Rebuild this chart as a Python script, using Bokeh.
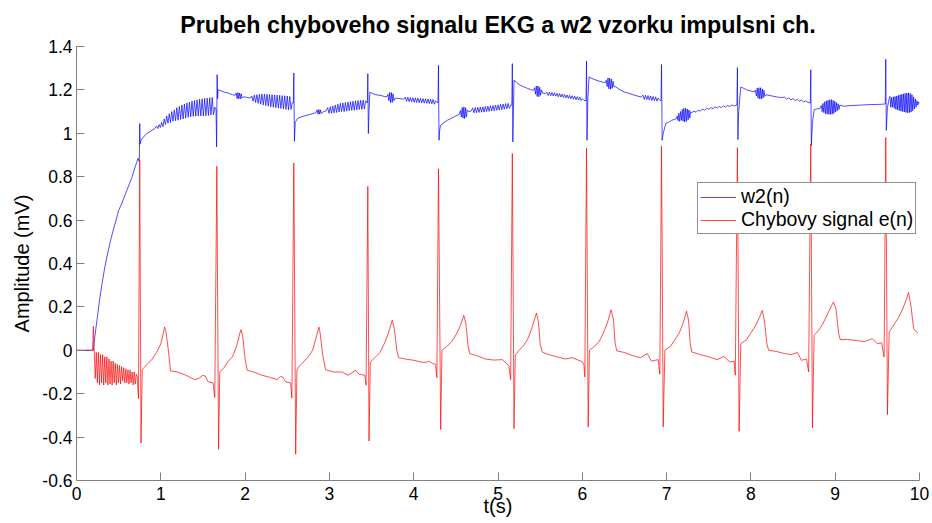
from bokeh.plotting import figure
from bokeh.models import Range1d, FixedTicker, Legend, LegendItem, PrintfTickFormatter
from bokeh.embed import file_html
from bokeh.resources import INLINE

TITLE = "Prubeh chyboveho signalu EKG a w2 vzorku impulsni ch."
X_LABEL = "t(s)"
Y_LABEL = "Amplitude (mV)"
X_TICKS = [0, 1, 2, 3, 4, 5, 6, 7, 8, 9, 10]
Y_TICKS = [-0.6, -0.4, -0.2, 0, 0.2, 0.4, 0.6, 0.8, 1, 1.2, 1.4]
SERIES_NAMES = ["w2(n)", "Chybovy signal e(n)"]

# ---- w2(n) (blue) as (t, value) ----
W2_RISE = [(0.0, 0.0), (0.19, 0.0), (0.2, 0.0), (0.21, 0.04), (0.23, 0.10), (0.25, 0.16), (0.27, 0.22),
           (0.30, 0.30), (0.33, 0.37), (0.36, 0.43), (0.40, 0.50), (0.44, 0.56), (0.47, 0.60), (0.50, 0.645),
           (0.53, 0.67), (0.56, 0.70), (0.60, 0.74), (0.63, 0.77), (0.66, 0.80), (0.70, 0.85), (0.73, 0.885),
           (0.745, 0.87), (0.75, 1.045), (0.755, 0.95), (0.765, 0.97), (0.78, 0.975)]
W2_SEG1 = [(0.82, 0.995), (0.86, 1.005), (0.90, 1.015), (0.93, 1.022),
           (0.950, 1.034), (0.965, 1.022), (0.980, 1.040), (0.995, 1.027), (1.010, 1.050), (1.025, 1.030),
           (1.040, 1.066), (1.055, 1.040), (1.070, 1.080), (1.085, 1.047), (1.100, 1.090), (1.115, 1.050),
           (1.130, 1.100), (1.145, 1.056), (1.160, 1.108), (1.175, 1.058), (1.190, 1.118), (1.205, 1.060),
           (1.220, 1.124), (1.235, 1.064), (1.250, 1.130), (1.265, 1.066), (1.280, 1.135), (1.295, 1.070),
           (1.310, 1.140), (1.325, 1.074), (1.340, 1.144), (1.355, 1.076), (1.370, 1.148), (1.385, 1.078),
           (1.400, 1.151), (1.415, 1.079), (1.430, 1.154), (1.445, 1.080), (1.460, 1.157), (1.475, 1.080),
           (1.490, 1.159), (1.505, 1.080), (1.520, 1.161), (1.535, 1.081), (1.550, 1.162), (1.565, 1.082),
           (1.580, 1.164), (1.595, 1.084), (1.610, 1.165), (1.625, 1.086), (1.640, 1.12),
           (1.655, 1.11), (1.662, 0.937), (1.668, 1.27), (1.674, 1.16), (1.68, 1.20)]
W2_SEG2 = [(1.70, 1.198), (1.75, 1.19), (1.80, 1.185), (1.85, 1.178), (1.88, 1.175),
           (1.895, 1.186), (1.905, 1.16), (1.915, 1.188), (1.925, 1.158), (1.935, 1.186), (1.945, 1.158),
           (1.955, 1.182), (1.965, 1.162), (1.98, 1.168), (2.02, 1.166), (2.06, 1.162),
           (2.080, 1.172), (2.095, 1.148), (2.110, 1.176), (2.125, 1.142), (2.140, 1.178), (2.155, 1.138),
           (2.170, 1.180), (2.185, 1.134), (2.200, 1.181), (2.215, 1.130), (2.230, 1.180), (2.245, 1.128),
           (2.260, 1.180), (2.275, 1.125), (2.290, 1.179), (2.305, 1.122), (2.320, 1.178), (2.335, 1.120),
           (2.350, 1.177), (2.365, 1.118), (2.380, 1.176), (2.395, 1.116), (2.410, 1.175), (2.425, 1.114),
           (2.440, 1.174), (2.455, 1.112), (2.470, 1.173), (2.485, 1.110), (2.500, 1.172), (2.515, 1.108),
           (2.530, 1.170), (2.545, 1.110), (2.560, 1.14),
           (2.572, 1.14), (2.578, 1.278), (2.585, 0.963), (2.595, 1.05), (2.62, 1.068)]
W2_SEG3 = [(2.66, 1.075), (2.70, 1.08), (2.75, 1.085), (2.80, 1.09), (2.84, 1.095),
           (2.855, 1.108), (2.865, 1.088), (2.875, 1.11), (2.885, 1.088), (2.895, 1.108), (2.905, 1.092),
           (2.93, 1.10), (2.96, 1.103),
           (2.980, 1.118), (2.995, 1.092), (3.010, 1.122), (3.025, 1.092), (3.040, 1.126), (3.055, 1.094),
           (3.070, 1.130), (3.085, 1.096), (3.100, 1.134), (3.115, 1.098), (3.130, 1.138), (3.145, 1.100),
           (3.160, 1.140), (3.175, 1.100), (3.190, 1.142), (3.205, 1.102), (3.220, 1.144), (3.235, 1.104),
           (3.250, 1.146), (3.265, 1.106), (3.280, 1.148), (3.295, 1.106), (3.310, 1.150), (3.325, 1.108),
           (3.340, 1.151), (3.355, 1.110), (3.370, 1.152), (3.385, 1.110), (3.400, 1.153), (3.415, 1.112),
           (3.430, 1.15), (3.45, 1.14), (3.456, 1.275), (3.462, 0.999), (3.47, 1.10), (3.48, 1.19), (3.51, 1.183)]
W2_SEG4 = [(3.55, 1.178), (3.60, 1.175), (3.65, 1.17), (3.68, 1.168),
           (3.695, 1.18), (3.705, 1.15), (3.715, 1.188), (3.725, 1.142), (3.735, 1.188), (3.745, 1.142),
           (3.755, 1.182), (3.765, 1.15), (3.78, 1.162), (3.83, 1.16), (3.88, 1.157),
           (3.900, 1.167), (3.915, 1.147), (3.930, 1.166), (3.945, 1.146), (3.960, 1.165), (3.975, 1.145),
           (3.990, 1.164), (4.005, 1.143), (4.020, 1.163), (4.035, 1.142), (4.050, 1.162), (4.065, 1.141),
           (4.080, 1.161), (4.095, 1.140), (4.110, 1.160), (4.125, 1.139), (4.140, 1.159), (4.155, 1.138),
           (4.170, 1.158), (4.185, 1.137), (4.200, 1.157), (4.215, 1.136), (4.230, 1.156), (4.245, 1.134),
           (4.260, 1.150), (4.275, 1.144), (4.288, 1.14), (4.294, 1.313), (4.30, 0.968), (4.31, 1.02), (4.32, 1.037)]
W2_SEG5 = [(4.36, 1.05), (4.40, 1.06), (4.45, 1.07), (4.50, 1.08), (4.54, 1.087),
           (4.555, 1.105), (4.565, 1.075), (4.575, 1.118), (4.585, 1.07), (4.595, 1.122), (4.605, 1.068),
           (4.615, 1.118), (4.625, 1.075), (4.635, 1.108), (4.65, 1.10), (4.68, 1.102),
           (4.700, 1.117), (4.715, 1.094), (4.730, 1.119), (4.745, 1.095), (4.760, 1.120), (4.775, 1.096),
           (4.790, 1.121), (4.805, 1.097), (4.820, 1.122), (4.835, 1.098), (4.850, 1.124), (4.865, 1.100),
           (4.880, 1.125), (4.895, 1.101), (4.910, 1.127), (4.925, 1.103), (4.940, 1.128), (4.955, 1.104),
           (4.970, 1.130), (4.985, 1.106), (5.000, 1.131), (5.015, 1.107), (5.030, 1.133), (5.045, 1.109),
           (5.060, 1.135), (5.075, 1.111), (5.090, 1.137), (5.105, 1.113), (5.120, 1.138), (5.135, 1.115),
           (5.150, 1.13), (5.164, 1.13), (5.170, 1.321), (5.176, 0.96), (5.183, 1.10), (5.19, 1.244)]
W2_SEG6 = [(5.22, 1.235), (5.26, 1.222), (5.30, 1.215), (5.35, 1.207), (5.40, 1.20), (5.42, 1.198),
           (5.435, 1.21), (5.445, 1.18), (5.455, 1.218), (5.465, 1.17), (5.475, 1.218), (5.485, 1.168),
           (5.495, 1.212), (5.505, 1.175), (5.515, 1.20), (5.53, 1.185), (5.56, 1.183),
           (5.580, 1.190), (5.595, 1.174), (5.610, 1.189), (5.625, 1.173), (5.640, 1.188), (5.655, 1.172),
           (5.670, 1.187), (5.685, 1.171), (5.700, 1.184), (5.715, 1.168), (5.730, 1.183), (5.745, 1.167),
           (5.760, 1.181), (5.775, 1.165), (5.790, 1.179), (5.805, 1.163), (5.820, 1.177), (5.835, 1.161),
           (5.850, 1.175), (5.865, 1.159), (5.880, 1.173), (5.895, 1.157), (5.910, 1.171), (5.925, 1.155),
           (5.940, 1.169), (5.955, 1.153), (5.970, 1.167), (5.985, 1.151), (6.000, 1.16), (6.020, 1.152),
           (6.044, 1.15), (6.050, 1.333), (6.056, 0.968), (6.065, 1.15), (6.08, 1.26)]
W2_SEG7 = [(6.10, 1.255), (6.15, 1.247), (6.20, 1.24), (6.25, 1.235), (6.27, 1.232),
           (6.285, 1.245), (6.295, 1.215), (6.305, 1.255), (6.315, 1.205), (6.325, 1.255), (6.335, 1.203),
           (6.345, 1.25), (6.355, 1.207), (6.365, 1.24), (6.375, 1.215), (6.39, 1.215), (6.45, 1.20),
           (6.50, 1.19), (6.55, 1.184), (6.60, 1.178), (6.65, 1.172), (6.70, 1.167),
           (6.720, 1.176), (6.735, 1.156), (6.750, 1.175), (6.765, 1.155), (6.780, 1.174), (6.795, 1.153),
           (6.810, 1.172), (6.825, 1.151), (6.840, 1.170), (6.855, 1.150), (6.870, 1.168), (6.885, 1.148),
           (6.900, 1.162), (6.920, 1.152), (6.934, 1.15), (6.940, 1.317), (6.947, 0.968), (6.96, 1.0), (6.99, 1.045)]
W2_SEG8 = [(7.02, 1.05), (7.06, 1.06), (7.10, 1.065), (7.12, 1.068),
           (7.125, 1.08), (7.135, 1.058), (7.145, 1.092), (7.155, 1.055), (7.165, 1.10), (7.175, 1.06),
           (7.185, 1.11), (7.195, 1.056), (7.205, 1.115), (7.215, 1.052), (7.225, 1.115), (7.235, 1.055),
           (7.245, 1.112), (7.255, 1.062), (7.265, 1.108), (7.275, 1.07), (7.285, 1.10),
           (7.30, 1.095), (7.325, 1.102), (7.35, 1.097), (7.375, 1.107), (7.40, 1.102), (7.425, 1.112),
           (7.45, 1.106), (7.475, 1.116), (7.50, 1.110), (7.525, 1.119), (7.55, 1.113), (7.575, 1.122),
           (7.60, 1.116), (7.625, 1.124), (7.65, 1.118), (7.675, 1.127), (7.70, 1.121), (7.725, 1.129),
           (7.75, 1.123), (7.775, 1.131), (7.80, 1.126), (7.83, 1.13),
           (7.834, 1.13), (7.840, 1.303), (7.846, 0.971), (7.855, 1.10), (7.88, 1.213)]
W2_SEG9 = [(7.90, 1.21), (7.95, 1.20), (8.00, 1.195), (8.04, 1.19),
           (8.055, 1.20), (8.065, 1.172), (8.075, 1.208), (8.085, 1.162), (8.095, 1.21), (8.105, 1.158),
           (8.115, 1.21), (8.125, 1.158), (8.135, 1.205), (8.145, 1.163), (8.155, 1.198), (8.165, 1.17),
           (8.18, 1.178), (8.25, 1.172), (8.30, 1.168), (8.35, 1.165),
           (8.40, 1.166), (8.425, 1.157), (8.45, 1.163), (8.475, 1.154), (8.50, 1.160), (8.525, 1.151),
           (8.55, 1.157), (8.575, 1.148), (8.60, 1.153), (8.625, 1.145), (8.65, 1.149), (8.67, 1.144),
           (8.70, 1.14), (8.705, 1.14), (8.710, 1.293), (8.717, 0.945), (8.73, 1.05), (8.75, 1.109)]
W2_SEG10 = [(8.78, 1.112), (8.82, 1.115),
            (8.835, 1.128), (8.845, 1.10), (8.855, 1.138), (8.865, 1.095), (8.875, 1.145), (8.885, 1.09),
            (8.895, 1.15), (8.905, 1.088), (8.915, 1.152), (8.925, 1.088), (8.935, 1.155), (8.945, 1.087),
            (8.955, 1.155), (8.965, 1.088), (8.975, 1.152), (8.985, 1.092), (8.995, 1.148), (9.005, 1.098),
            (9.015, 1.142), (9.025, 1.104), (9.035, 1.136), (9.045, 1.11), (9.055, 1.13),
            (9.10, 1.125), (9.20, 1.128), (9.30, 1.13), (9.40, 1.132), (9.50, 1.133), (9.56, 1.134),
            (9.59, 1.135), (9.594, 1.135), (9.600, 1.341), (9.606, 1.014), (9.62, 1.12), (9.64, 1.16)]
W2_SEG11 = [(9.650, 1.17), (9.660, 1.12), (9.670, 1.165), (9.680, 1.12), (9.690, 1.168), (9.700, 1.115),
            (9.710, 1.17), (9.720, 1.11), (9.730, 1.172), (9.740, 1.108), (9.750, 1.175), (9.760, 1.105),
            (9.770, 1.178), (9.780, 1.102), (9.790, 1.18), (9.800, 1.10), (9.810, 1.182), (9.820, 1.098),
            (9.830, 1.184), (9.840, 1.096), (9.850, 1.186), (9.860, 1.095), (9.870, 1.186), (9.880, 1.095),
            (9.890, 1.184), (9.900, 1.098), (9.910, 1.178), (9.920, 1.104), (9.930, 1.168), (9.940, 1.112),
            (9.950, 1.158), (9.960, 1.12), (9.970, 1.15), (9.980, 1.13), (9.990, 1.145), (10.0, 1.137)]

# ---- e(n) error signal (red) as (t, value) ----
E_START = [(0.0, 0.0), (0.19, 0.0), (0.20, 0.11), (0.21, 0.0),
           (0.2225, -0.13), (0.235, -0.01), (0.2475, -0.15), (0.26, -0.01), (0.2725, -0.16), (0.285, -0.02),
           (0.2975, -0.15), (0.31, -0.02), (0.3225, -0.16), (0.335, -0.03), (0.3475, -0.15), (0.36, -0.03),
           (0.3725, -0.16), (0.385, -0.04), (0.3975, -0.155), (0.41, -0.05), (0.4225, -0.16), (0.435, -0.05),
           (0.4475, -0.15), (0.46, -0.06), (0.4725, -0.16), (0.485, -0.065), (0.4975, -0.15), (0.51, -0.07),
           (0.5225, -0.155), (0.535, -0.075), (0.5475, -0.14), (0.56, -0.08), (0.5725, -0.15), (0.585, -0.085),
           (0.5975, -0.15), (0.61, -0.09), (0.6225, -0.155), (0.635, -0.09), (0.6475, -0.15), (0.66, -0.10),
           (0.6725, -0.16), (0.685, -0.10), (0.6975, -0.155), (0.71, -0.11), (0.72, -0.12)]
E_BEAT1 = [(0.735, -0.223), (0.75, 0.876), (0.765, -0.427), (0.78, -0.09), (0.80, -0.08), (0.85, -0.06),
           (0.90, -0.04), (0.95, -0.01), (1.00, 0.03), (1.03, 0.08), (1.045, 0.107), (1.06, 0.09), (1.09, 0.0),
           (1.115, -0.095), (1.20, -0.10), (1.30, -0.115), (1.40, -0.135), (1.45, -0.13), (1.50, -0.115),
           (1.53, -0.12), (1.56, -0.145), (1.62, -0.15)]
E_BEAT2 = [(1.64, -0.217), (1.665, 0.848), (1.685, -0.456), (1.70, -0.10), (1.75, -0.08), (1.80, -0.05),
           (1.85, -0.03), (1.90, 0.02), (1.935, 0.075), (1.953, 0.095), (1.97, 0.07), (2.00, -0.04),
           (2.025, -0.092), (2.10, -0.10), (2.20, -0.115), (2.30, -0.125), (2.38, -0.135), (2.42, -0.12),
           (2.45, -0.125), (2.48, -0.145), (2.54, -0.15)]
E_BEAT3 = [(2.555, -0.22), (2.578, 0.863), (2.60, -0.479), (2.615, -0.09), (2.65, -0.07), (2.70, -0.05),
           (2.75, -0.03), (2.80, 0.0), (2.85, 0.07), (2.875, 0.107), (2.89, 0.08), (2.92, -0.02), (2.954, -0.09),
           (3.05, -0.10), (3.15, -0.10), (3.22, -0.115), (3.28, -0.10), (3.31, -0.092), (3.35, -0.11),
           (3.42, -0.115)]
E_BEAT4 = [(3.435, -0.161), (3.456, 0.756), (3.47, -0.418), (3.485, -0.054), (3.55, -0.03), (3.60, -0.01),
           (3.65, 0.03), (3.70, 0.08), (3.745, 0.138), (3.77, 0.10), (3.80, 0.0), (3.82, -0.034), (3.90, -0.04),
           (4.00, -0.046), (4.10, -0.055), (4.15, -0.055), (4.18, -0.05), (4.22, -0.06), (4.26, -0.065)]
E_BEAT5 = [(4.275, -0.126), (4.294, 0.836), (4.32, -0.365), (4.335, 0.0), (4.40, 0.02), (4.45, 0.04),
           (4.50, 0.07), (4.55, 0.11), (4.595, 0.161), (4.62, 0.12), (4.645, 0.02), (4.665, -0.015),
           (4.75, -0.025), (4.85, -0.04), (4.95, -0.045), (5.05, -0.043), (5.10, -0.06), (5.13, -0.074)]
E_BEAT6 = [(5.15, -0.135), (5.17, 0.907), (5.19, -0.361), (5.205, -0.023), (5.25, 0.0), (5.30, 0.02),
           (5.35, 0.05), (5.40, 0.10), (5.457, 0.172), (5.48, 0.13), (5.50, 0.03), (5.525, -0.008), (5.60, -0.02),
           (5.70, -0.03), (5.80, -0.04), (5.88, -0.034), (5.95, -0.045), (6.00, -0.052), (6.02, -0.07)]
E_BEAT7 = [(6.03, -0.123), (6.05, 0.932), (6.07, -0.353), (6.085, 0.0), (6.15, 0.02), (6.20, 0.04),
           (6.25, 0.08), (6.30, 0.13), (6.342, 0.187), (6.37, 0.14), (6.39, 0.03), (6.41, -0.003), (6.50, -0.01),
           (6.60, -0.025), (6.69, -0.034), (6.77, -0.015), (6.82, -0.05), (6.90, -0.043)]
E_BEAT8 = [(6.92, -0.11), (6.94, 0.94), (6.96, -0.353), (6.98, 0.0), (7.05, 0.02), (7.10, 0.05), (7.15, 0.08),
           (7.20, 0.13), (7.236, 0.18), (7.26, 0.14), (7.28, 0.03), (7.30, -0.008), (7.40, -0.02), (7.50, -0.03),
           (7.60, -0.043), (7.68, -0.028), (7.75, -0.054), (7.80, -0.05)]
E_BEAT9 = [(7.815, -0.115), (7.84, 0.934), (7.86, -0.373), (7.88, 0.03), (7.95, 0.05), (8.00, 0.08),
           (8.05, 0.11), (8.10, 0.15), (8.134, 0.184), (8.16, 0.14), (8.19, 0.03), (8.21, 0.0), (8.30, -0.005),
           (8.40, -0.015), (8.48, -0.02), (8.55, -0.01), (8.60, -0.046), (8.66, -0.04)]
E_BEAT10 = [(8.685, -0.10), (8.71, 0.95), (8.73, -0.358), (8.75, 0.069), (8.80, 0.09), (8.85, 0.12),
            (8.90, 0.16), (8.95, 0.20), (8.98, 0.223), (9.01, 0.19), (9.04, 0.08), (9.06, 0.049), (9.15, 0.05),
            (9.25, 0.045), (9.35, 0.04), (9.44, 0.054), (9.50, 0.03), (9.55, 0.035)]
E_BEAT11 = [(9.58, -0.031), (9.60, 0.98), (9.62, -0.296), (9.64, 0.084), (9.70, 0.12), (9.75, 0.15),
            (9.80, 0.19), (9.85, 0.24), (9.87, 0.267), (9.90, 0.20), (9.93, 0.10), (9.95, 0.09), (9.98, 0.08)]

W2_SEGMENTS = [W2_RISE, W2_SEG1, W2_SEG2, W2_SEG3, W2_SEG4, W2_SEG5, W2_SEG6,
               W2_SEG7, W2_SEG8, W2_SEG9, W2_SEG10, W2_SEG11]
E_SEGMENTS = [E_START, E_BEAT1, E_BEAT2, E_BEAT3, E_BEAT4, E_BEAT5, E_BEAT6,
              E_BEAT7, E_BEAT8, E_BEAT9, E_BEAT10, E_BEAT11]


def unpack(segments):
    pts = [pt for seg in segments for pt in seg]
    return [a for a, _ in pts], [b for _, b in pts]


w2_t, w2_v = unpack(W2_SEGMENTS)
e_t, e_v = unpack(E_SEGMENTS)

FONT = "Liberation Sans"

p = figure(width=930, height=520, output_backend="svg", toolbar_location=None,
           x_range=Range1d(0, 10), y_range=Range1d(-0.6, 1.4),
           min_border_left=76, min_border_right=11, min_border_top=46, min_border_bottom=40)
p.outline_line_color = None
p.background_fill_color = "white"
p.border_fill_color = "white"
p.xgrid.visible = False
p.ygrid.visible = False

p.title.text = TITLE
p.title.align = "center"
p.title.text_font = FONT
p.title.text_font_size = "23.3px"
p.title.text_font_style = "bold"
p.title.text_color = "black"
p.title.standoff = 18

for ax in (p.xaxis[0], p.yaxis[0]):
    ax.axis_line_color = "#808080"
    ax.axis_line_width = 1
    ax.major_tick_line_color = "#808080"
    ax.major_tick_in = 8
    ax.major_tick_out = 0
    ax.minor_tick_line_color = None
    ax.major_label_text_font = FONT
    ax.major_label_text_font_size = "17.5px"
    ax.major_label_text_color = "black"
    ax.axis_label_text_font = FONT
    ax.axis_label_text_font_style = "normal"
    ax.axis_label_text_color = "black"

p.xaxis[0].ticker = FixedTicker(ticks=X_TICKS)
p.yaxis[0].ticker = FixedTicker(ticks=Y_TICKS)
p.yaxis[0].formatter = PrintfTickFormatter(format="%g")
p.xaxis[0].formatter = PrintfTickFormatter(format="%g")
p.xaxis[0].axis_label = X_LABEL
p.yaxis[0].axis_label = Y_LABEL
p.xaxis[0].axis_label_text_font_size = "20px"
p.yaxis[0].axis_label_text_font_size = "20px"
p.xaxis[0].major_label_standoff = 6
p.xaxis[0].axis_label_standoff = -8
p.yaxis[0].major_label_standoff = 4
p.yaxis[0].axis_label_standoff = 6

rb = p.line(w2_t, w2_v, line_color="#0000ff", line_width=0.7)
rr = p.line(e_t, e_v, line_color="#ff0000", line_width=0.7)

legend = Legend(items=[LegendItem(label=SERIES_NAMES[0], renderers=[rb]),
                       LegendItem(label=SERIES_NAMES[1], renderers=[rr])],
                location=(621, 246))
legend.border_line_color = "#262626"
legend.border_line_width = 1
legend.background_fill_color = "white"
legend.background_fill_alpha = 1.0
legend.padding = 2
legend.spacing = 0
legend.margin = 0
legend.glyph_width = 36
legend.glyph_height = 20
legend.label_standoff = 5
legend.label_height = 20
legend.label_text_font = FONT
legend.label_text_font_size = "19.5px"
legend.label_text_color = "black"
p.add_layout(legend)

open("out.html", "w").write(file_html(p, INLINE))
